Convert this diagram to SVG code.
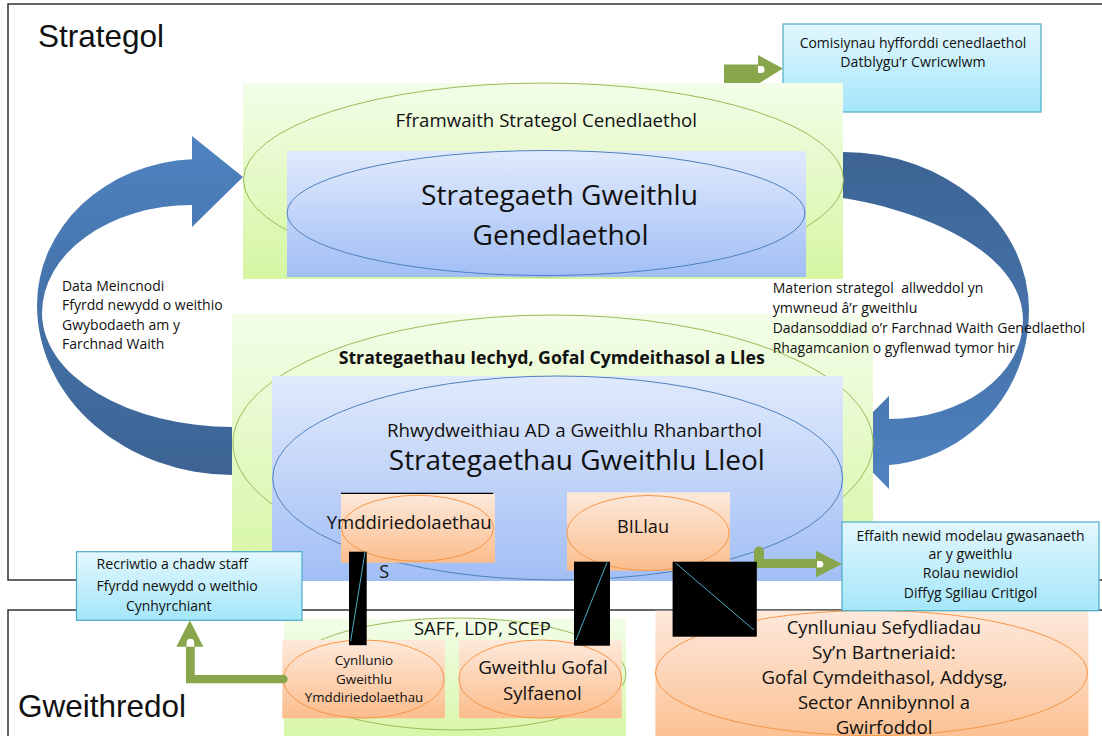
<svg xmlns="http://www.w3.org/2000/svg" width="1102" height="736" viewBox="0 0 1102 736">
<defs>
<linearGradient id="gGreen" x1="0" y1="0" x2="0" y2="1"><stop offset="0" stop-color="#f3fde9"/><stop offset="1" stop-color="#d5f6a2"/></linearGradient>
<linearGradient id="gBlue" x1="0" y1="0" x2="0" y2="1"><stop offset="0" stop-color="#e1eafc"/><stop offset="1" stop-color="#a1bef5"/></linearGradient>
<linearGradient id="gOrange" x1="0" y1="0" x2="0" y2="1"><stop offset="0" stop-color="#fde9dc"/><stop offset="1" stop-color="#fbbd8c"/></linearGradient>
<linearGradient id="gCyan" x1="0" y1="0" x2="0" y2="1"><stop offset="0" stop-color="#e3f7fd"/><stop offset="1" stop-color="#a4e6fa"/></linearGradient>
<linearGradient id="gArrowL" gradientUnits="userSpaceOnUse" x1="0" y1="136" x2="0" y2="475"><stop offset="0" stop-color="#4e82c0"/><stop offset="1" stop-color="#3c6393"/></linearGradient>
<linearGradient id="gArrowR" gradientUnits="userSpaceOnUse" x1="0" y1="152" x2="0" y2="489"><stop offset="0" stop-color="#3c6393"/><stop offset="1" stop-color="#4f82c0"/></linearGradient>
<style>
.frame{fill:none;stroke:#333;stroke-width:1.5}
.gbox{fill:url(#gGreen)}
.bbox{fill:url(#gBlue)}
.obox{fill:url(#gOrange)}
.cbox{fill:url(#gCyan);stroke:#4bacc6;stroke-width:1.2}
.gell{fill:none;stroke:#9bbb59;stroke-width:1}
.bell{fill:none;stroke:#4f81bd;stroke-width:1}
.oell{fill:none;stroke:#f79646;stroke-width:1}
.garrow{fill:#88a64b}
.notch{fill:#fff}
.blk{fill:#000}
.diag{stroke:#4bacc6;stroke-width:1}
text{font-family:"Open Sans","Noto Sans","DejaVu Sans",sans-serif;fill:#111}
.big{font-family:"Liberation Sans",Arial,sans-serif;font-size:31.5px}
.s14{font-size:14px}
.mid{text-anchor:middle}
</style>
</defs>

<g id="frame-strategol">
<rect class="frame" x="8" y="4" width="1100" height="576"/>
<text class="big" x="38" y="47">Strategol</text>
</g>
<g id="frame-gweithredol">
<rect class="frame" x="8" y="610" width="1100" height="200"/>
<text class="big" x="18" y="717">Gweithredol</text>
</g>

<g id="connectors">
<path id="arrow-left" fill="url(#gArrowL)" d="M192,159.2 L192,136 L243,177 L192,227 L192,205 A150,108 0 0 0 42,313 A191,114 0 0 0 233,427 L245,427 L245,475 L233,475 A196,170 0 0 1 37,305 A163,146 0 0 1 192,159.2 Z"/>
<path id="arrow-right" fill="url(#gArrowR)" d="M830,152 L843,152 A186,158 0 0 1 1029,310 C1029,400 960,460 889,465 L889,489 L843,442 L889,396 L889,419 A134,99 0 0 0 1023,320 C1023,255 930,212 843,198 L830,198 Z"/>
<path id="arrow-comisiynau" class="garrow" d="M724,84 V64.5 H758 V55 L783,68.5 L758,84 Z"/>
<path class="notch" d="M758,66 h3 a3.5,3.5 0 0 1 0,7 h-3 z"/>
</g>

<g id="comisiynau">
<rect class="cbox" x="783" y="24" width="258" height="88"/>
<text class="s14 mid" x="913" y="48.3" textLength="226.7" lengthAdjust="spacingAndGlyphs">Comisiynau hyfforddi cenedlaethol</text>
<text class="s14 mid" x="913" y="66.7" textLength="145.3" lengthAdjust="spacingAndGlyphs">Datblygu’r Cwricwlwm</text>
</g>

<g id="fframwaith">
<rect class="gbox" x="243" y="83" width="600" height="196"/>
<ellipse class="gell" cx="543.5" cy="180" rx="300" ry="97"/>
<text class="mid" x="546.3" y="126.7" font-size="18.6" textLength="301.4" lengthAdjust="spacingAndGlyphs">Fframwaith Strategol Cenedlaethol</text>
</g>

<g id="strategaeth-genedlaethol">
<rect class="bbox" x="287" y="151" width="519" height="126"/>
<ellipse class="bell" cx="546" cy="213" rx="259" ry="62.5"/>
<text class="mid" x="559.5" y="205" font-size="28" textLength="277" lengthAdjust="spacingAndGlyphs">Strategaeth Gweithlu</text>
<text class="mid" x="560.6" y="245" font-size="28" textLength="176" lengthAdjust="spacingAndGlyphs">Genedlaethol</text>
</g>

<g id="strategaethau-iechyd">
<rect class="gbox" x="232" y="314" width="641" height="267"/>
<ellipse class="gell" cx="553" cy="443" rx="320" ry="128"/>
<text class="mid" x="551.7" y="364" font-size="17" font-weight="bold" textLength="426" lengthAdjust="spacingAndGlyphs">Strategaethau Iechyd, Gofal Cymdeithasol a Lles</text>
</g>

<g id="label-left">
<text class="s14" x="62" y="290.5" textLength="102.3" lengthAdjust="spacingAndGlyphs">Data Meincnodi</text>
<text class="s14" x="62" y="310" textLength="160.7" lengthAdjust="spacingAndGlyphs">Ffyrdd newydd o weithio</text>
<text class="s14" x="62" y="329.5" textLength="118" lengthAdjust="spacingAndGlyphs">Gwybodaeth am y</text>
<text class="s14" x="62" y="349" textLength="102.3" lengthAdjust="spacingAndGlyphs">Farchnad Waith</text>
</g>

<g id="label-right">
<text class="s14" x="772.7" y="293.3" xml:space="preserve" textLength="210.7" lengthAdjust="spacingAndGlyphs">Materion strategol  allweddol yn</text>
<text class="s14" x="772.7" y="313" textLength="144.7" lengthAdjust="spacingAndGlyphs">ymwneud â’r gweithlu</text>
<text class="s14" x="772.7" y="332.7" textLength="312.3" lengthAdjust="spacingAndGlyphs">Dadansoddiad o’r Farchnad Waith Genedlaethol</text>
<text class="s14" x="772.7" y="352.5" textLength="242.3" lengthAdjust="spacingAndGlyphs">Rhagamcanion o gyflenwad tymor hir</text>
</g>

<g id="strategaethau-lleol">
<rect class="bbox" x="272" y="376" width="571" height="205"/>
<ellipse class="bell" cx="557.7" cy="478" rx="285" ry="102"/>
<text class="mid" x="574.4" y="436.7" font-size="18.6" textLength="375" lengthAdjust="spacingAndGlyphs">Rhwydweithiau AD a Gweithlu Rhanbarthol</text>
<text class="mid" x="576.8" y="470" font-size="28" textLength="376" lengthAdjust="spacingAndGlyphs">Strategaethau Gweithlu Lleol</text>
<text x="379.3" y="577.7" font-size="18">S</text>
</g>

<g id="ymddiriedolaethau">
<rect class="obox" x="341" y="493.3" width="154" height="69.4"/>
<line x1="341" y1="493.3" x2="493.3" y2="493.3" stroke="#000" stroke-width="1.3"/>
<ellipse class="oell" cx="417.5" cy="528.3" rx="76" ry="33"/>
<text x="326.7" y="529.3" font-size="17.6" textLength="165" lengthAdjust="spacingAndGlyphs">Ymddiriedolaethau</text>
</g>

<g id="billau">
<rect class="obox" x="567" y="492.3" width="163" height="78.4"/>
<ellipse class="oell" cx="648" cy="533" rx="81" ry="37.5"/>
<text x="617" y="532.7" font-size="17.8" textLength="52" lengthAdjust="spacingAndGlyphs">BILlau</text>
</g>

<g id="saff">
<rect class="gbox" x="284" y="618.3" width="342" height="130"/>
<ellipse class="gell" cx="456" cy="674" rx="170" ry="56"/>
<text x="414" y="635" font-size="18" textLength="136.7" lengthAdjust="spacingAndGlyphs">SAFF, LDP, SCEP</text>
</g>

<g id="cynllunio">
<rect class="obox" x="282.3" y="640" width="162.7" height="78.3"/>
<ellipse class="oell" cx="363.7" cy="679" rx="80.3" ry="39"/>
<text class="mid" x="364" y="665" font-size="13.5">Cynllunio</text>
<text class="mid" x="364" y="683.5" font-size="13.5">Gweithlu</text>
<text class="mid" x="364" y="702" font-size="13.3">Ymddiriedolaethau</text>
</g>

<g id="gweithlu-gofal">
<rect class="obox" x="459" y="640" width="162.7" height="78.3"/>
<ellipse class="oell" cx="540.3" cy="679" rx="81.3" ry="39"/>
<text class="mid" x="543" y="674.3" font-size="18.5" textLength="129.7" lengthAdjust="spacingAndGlyphs">Gweithlu Gofal</text>
<text class="mid" x="542.3" y="700" font-size="18.5" textLength="78.7" lengthAdjust="spacingAndGlyphs">Sylfaenol</text>
</g>

<g id="cynlluniau-partneriaid">
<rect class="obox" x="655.4" y="610.7" width="433" height="140"/>
<ellipse class="oell" cx="871.5" cy="673" rx="216" ry="62.5"/>
<text class="mid" x="883.8" y="634" font-size="18.3" textLength="194.3" lengthAdjust="spacingAndGlyphs">Cynlluniau Sefydliadau</text>
<text class="mid" x="883.9" y="659" font-size="18.3" textLength="143.8" lengthAdjust="spacingAndGlyphs">Sy’n Bartneriaid:</text>
<text class="mid" x="884.6" y="684" font-size="18.3" textLength="246.2" lengthAdjust="spacingAndGlyphs">Gofal Cymdeithasol, Addysg,</text>
<text class="mid" x="884" y="709" font-size="18.3" textLength="172" lengthAdjust="spacingAndGlyphs">Sector Annibynnol a</text>
<text class="mid" x="884.1" y="734" font-size="18.3" textLength="96.8" lengthAdjust="spacingAndGlyphs">Gwirfoddol</text>
</g>

<g id="recriwtio">
<rect class="cbox" x="76.5" y="551.7" width="225.5" height="68.6"/>
<text class="s14" x="96.5" y="569.3" textLength="151.5" lengthAdjust="spacingAndGlyphs">Recriwtio a chadw staff</text>
<text class="s14" x="96.5" y="590.7" textLength="161.3" lengthAdjust="spacingAndGlyphs">Ffyrdd newydd o weithio</text>
<text class="s14" x="126" y="611" textLength="85.5" lengthAdjust="spacingAndGlyphs">Cynhyrchiant</text>
</g>

<g id="effaith">
<rect class="cbox" x="842" y="522" width="257" height="88.7"/>
<text class="s14 mid" x="970.5" y="540.7" textLength="228" lengthAdjust="spacingAndGlyphs">Effaith newid modelau gwasanaeth</text>
<text class="s14 mid" x="970.5" y="559" textLength="84" lengthAdjust="spacingAndGlyphs">ar y gweithlu</text>
<text class="s14 mid" x="970.5" y="578" textLength="95.5" lengthAdjust="spacingAndGlyphs">Rolau newidiol</text>
<text class="s14 mid" x="970.5" y="598" textLength="133.5" lengthAdjust="spacingAndGlyphs">Diffyg Sgiliau Critigol</text>
</g>

<g id="connectors-front">
<path id="arrow-effaith" class="garrow" d="M754,568 V551.5 A5,5 0 0 1 764,551.5 V559 H816 V550.7 L842,564 L816,577.3 V568 Z"/>
<path class="notch" d="M817,561 h3 a3.3,3.3 0 0 1 0,6.6 h-3 z"/>
<path id="arrow-recriwtio" class="garrow" d="M189.8,620.3 L203.4,646.7 H194.7 V675 H283.5 A4.15,4.15 0 0 1 283.5,683.3 H186 V646.7 H176.4 Z"/>
<path class="notch" d="M186.6,646.7 V642.5 A3.8,3.8 0 0 1 194.2,642.5 V646.7 Z"/>
<g id="black-links">
<rect class="blk" x="349" y="551.7" width="17.7" height="93.5"/>
<line class="diag" x1="365" y1="552" x2="350.7" y2="641"/>
<rect class="blk" x="574" y="561.7" width="36" height="84"/>
<line class="diag" x1="607" y1="562.5" x2="576" y2="640"/>
<rect class="blk" x="672.6" y="561.7" width="84.2" height="75"/>
<line class="diag" x1="675.5" y1="563" x2="754" y2="630"/>
</g>
</g>
</svg>
